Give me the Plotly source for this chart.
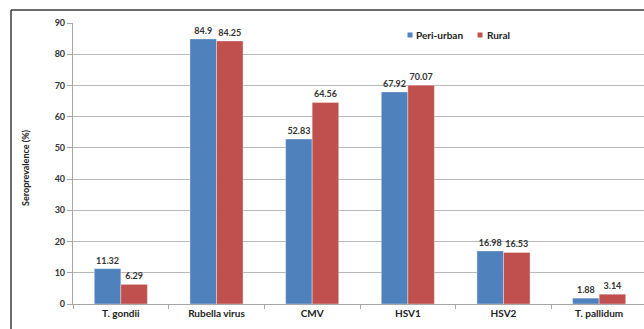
import plotly.graph_objects as go

# Seroprevalence of infections by residence
pathogens = ["T. gondii", "Rubella virus", "CMV", "HSV1", "HSV2", "T. pallidum"]
peri_urban = [11.32, 84.9, 52.83, 67.92, 16.98, 1.88]
rural = [6.29, 84.25, 64.56, 70.07, 16.53, 3.14]
y_ticks = [0, 10, 20, 30, 40, 50, 60, 70, 80, 90]
series_names = ["Peri-urban", "Rural"]

BLUE = "#4F81BD"
RED = "#C0504D"
FONT = "Lato, 'Open Sans', Arial, sans-serif"

W, H = 644, 329
ML, MT, MB, MR = 73, 23, 25, 0

fig = go.Figure()
for name, vals, col in zip(series_names, [peri_urban, rural], [BLUE, RED]):
    fig.add_trace(go.Bar(
        x=pathogens, y=vals, name=name, showlegend=False,
        marker=dict(color=col, line=dict(color="rgba(255,255,255,0.6)", width=0.6)),
        text=[f"{v:g}" for v in vals], textposition="outside",
        textfont=dict(family=FONT, size=9, color="#333333", weight="bold"),
        cliponaxis=False,
    ))

plot_w = W - ML - MR
plot_h = H - MT - MB

def px_x(p):
    return (p - ML) / plot_w

def px_y(p):
    return (H - MB - p) / plot_h

# outer frame (left and top edges)
fig.add_shape(type="line", xref="paper", yref="paper",
              x0=px_x(11), x1=px_x(11), y0=px_y(10), y1=px_y(335),
              line=dict(color="#3a3a3a", width=1.5))
fig.add_shape(type="line", xref="paper", yref="paper",
              x0=px_x(11), x1=px_x(650), y0=px_y(10), y1=px_y(10),
              line=dict(color="#3a3a3a", width=1.5))

# compact legend: small square key followed by the series name
for name, col, key_x in zip(series_names, [BLUE, RED], [407.5, 477.5]):
    fig.add_shape(type="rect", xref="paper", yref="paper",
                  x0=px_x(key_x), x1=px_x(key_x + 5), y0=px_y(32.5), y1=px_y(37.5),
                  fillcolor=col, line=dict(width=0))
    fig.add_annotation(xref="paper", yref="paper", x=px_x(key_x + 7), y=px_y(35),
                       xanchor="left", yanchor="middle", showarrow=False, text=name,
                       font=dict(family=FONT, size=10, color="#222222", weight="bold"))

fig.update_layout(
    width=W, height=H,
    margin=dict(l=ML, r=MR, t=MT, b=MB),
    paper_bgcolor="white", plot_bgcolor="white",
    barmode="group", bargap=0.445, bargroupgap=0,
    font=dict(family=FONT, color="#333333"),
    showlegend=False,
    xaxis=dict(
        range=[-0.5, 5.5 - 3 / 95.7],
        showgrid=False, showline=True, linecolor="#a6a6a6", linewidth=1.2,
        ticks="outside", tickson="boundaries", ticklen=4, tickcolor="#a6a6a6",
        tickfont=dict(family=FONT, size=10, color="#222222", weight="bold"),
        fixedrange=True,
    ),
    yaxis=dict(
        range=[0, 90], tickvals=y_ticks,
        showgrid=True, gridcolor="#b8b8b8", gridwidth=1.2,
        showline=True, linecolor="#a6a6a6", linewidth=1.2,
        ticks="outside", ticklen=5, tickcolor="#a6a6a6",
        tickfont=dict(family=FONT, size=9, color="#333333", weight="bold"),
        zeroline=False, fixedrange=True,
    ),
)

# y-axis title
fig.add_annotation(xref="paper", yref="paper", x=px_x(25), y=px_y(168),
                   xanchor="center", yanchor="middle", textangle=-90, showarrow=False,
                   text="Seroprevalence (%)",
                   font=dict(family=FONT, size=9, color="#222222", weight="bold"))

fig.write_html("out.html")
